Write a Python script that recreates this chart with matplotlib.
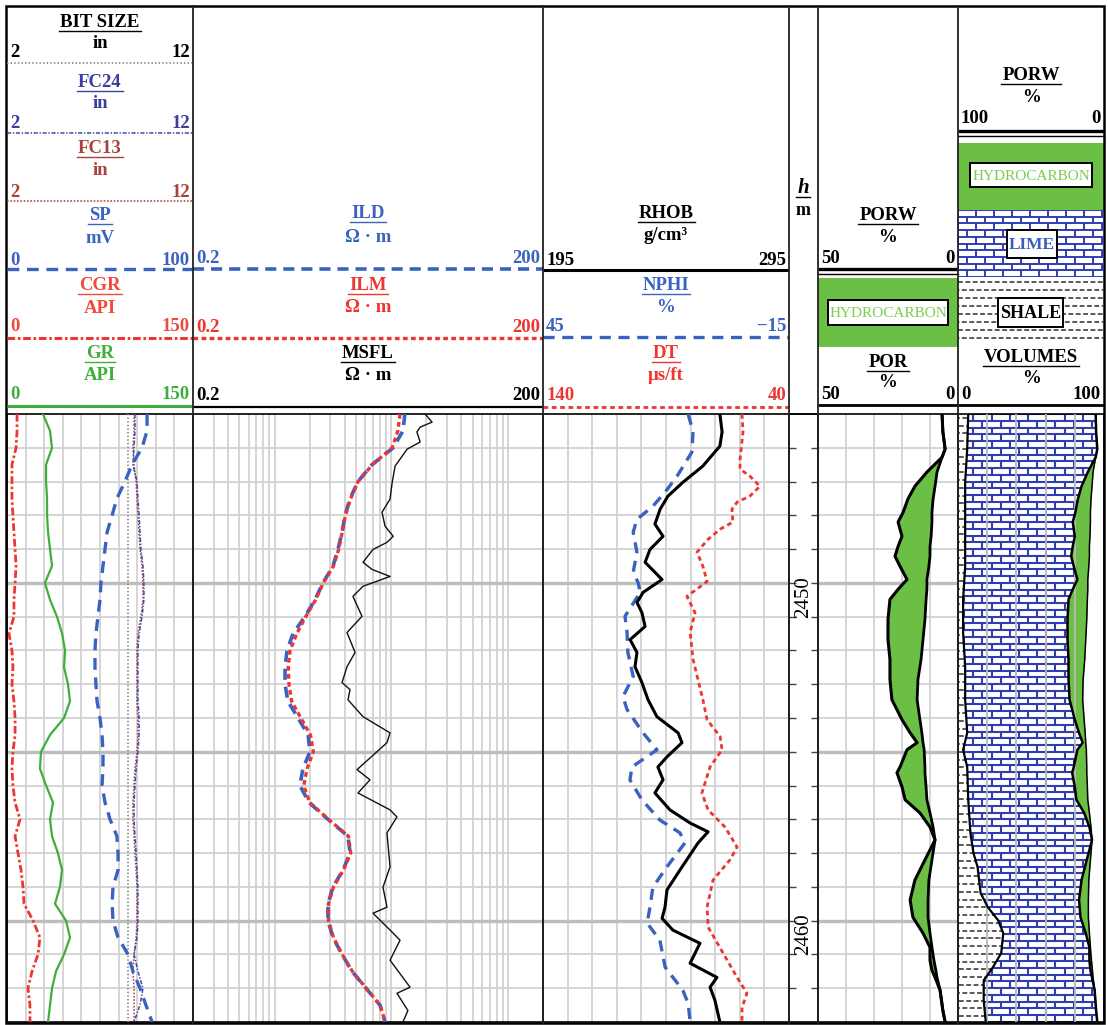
import numpy as np
import matplotlib
matplotlib.use("Agg")
import matplotlib.pyplot as plt
from matplotlib.collections import LineCollection
from matplotlib.patches import Rectangle
from matplotlib import transforms

plt.rcParams['lines.scale_dashes'] = False
plt.rcParams['font.family'] = ['Liberation Serif', 'DejaVu Serif']

W, H = 1108, 1025
fig = plt.figure(figsize=(W / 100, H / 100), dpi=100)

# ---------------------------------------------------------------- data
DEPTH = [2445.0, 2445.5, 2446.0, 2446.5, 2447.0, 2447.5, 2448.0, 2448.5, 2449.0,
         2449.5, 2450.0, 2450.5, 2451.0, 2451.5, 2452.0, 2452.5, 2453.0, 2453.5,
         2454.0, 2454.5, 2455.0, 2455.5, 2456.0, 2456.5, 2457.0, 2457.5, 2458.0,
         2458.5, 2459.0, 2459.5, 2460.0, 2460.5, 2461.0, 2461.5, 2462.0, 2462.5, 2463.0]

GR = [29.0, 34.7, 36.3, 31.5, 31.5, 32.3, 32.3, 33.1, 34.7, 36.3, 30.6, 34.7, 40.3,
      44.4, 46.8, 46.0, 49.2, 50.8, 46.0, 34.7, 27.4, 26.6, 31.5, 37.1, 34.7, 36.3,
      41.1, 44.4, 42.7, 38.7, 47.6, 50.8, 46.0, 39.5, 36.3, 34.7, 33.1]
CGR = [8.1, 8.1, 7.3, 4.0, 4.0, 4.0, 4.8, 5.6, 6.5, 7.3, 6.5, 5.6, 5.6, 1.6, 4.0, 4.8,
       4.0, 5.6, 6.5, 6.5, 4.8, 4.0, 4.8, 6.5, 10.5, 6.5, 8.9, 11.3, 12.9, 13.7, 21.0,
       26.6, 25.0, 20.2, 16.9, 18.5, 18.5]
SP = [75.3, 75.3, 72.6, 67.2, 63.4, 59.1, 56.5, 53.8, 52.7, 51.6, 50.5, 50.0, 48.9,
      47.8, 47.3, 47.3, 47.8, 48.4, 50.0, 51.1, 51.6, 51.6, 51.1, 52.7, 55.4, 59.1,
      59.7, 59.7, 57.0, 56.5, 57.0, 59.7, 65.1, 67.7, 71.5, 74.7, 78.0]
FC13 = [8.83, 8.83, 8.77, 8.83, 8.94, 8.99, 9.04, 9.10, 9.15, 9.26, 9.31, 9.31, 9.20,
        9.04, 8.99, 8.99, 8.99, 8.99, 9.04, 9.04, 8.99, 8.88, 8.83, 8.77, 8.77, 8.83,
        8.88, 8.94, 8.99, 8.99, 8.99, 8.94, 8.83, 8.77, 8.83, 8.83, 8.83]
FC24 = [8.88, 8.88, 8.83, 8.77, 8.99, 9.04, 9.10, 9.15, 9.20, 9.31, 9.36, 9.36, 9.26,
        9.10, 9.04, 9.04, 9.04, 9.04, 9.10, 9.10, 9.04, 8.94, 8.88, 8.83, 8.83, 8.88,
        8.94, 8.99, 9.04, 9.04, 9.04, 8.99, 8.83, 9.04, 9.31, 9.15, 8.83]
BIT_DEPTH = [2445.0, 2463.0]
BIT = [8.5, 8.5]

ILD = [13.1, 12.6, 10.4, 6.84, 5.19, 4.44, 4.02, 3.79, 3.50, 3.17, 2.60, 2.22, 1.82,
       1.44, 1.28, 1.23, 1.23, 1.30, 1.59, 1.94, 2.01, 1.75, 1.65, 1.97, 2.87, 4.26,
       4.44, 3.86, 3.17, 2.87, 2.87, 3.17, 3.79, 4.61, 6.08, 8.02, 8.85]
ILM = [11.9, 11.4, 10.2, 6.9, 5.2, 4.5, 4.05, 3.8, 3.55, 3.2, 2.62, 2.25, 1.85, 1.55,
       1.36, 1.31, 1.33, 1.40, 1.68, 2.03, 2.15, 1.90, 1.78, 2.0, 2.9, 4.3, 4.5, 3.9,
       3.2, 2.9, 2.9, 3.2, 3.8, 4.65, 6.1, 8.0, 8.9]
MSFL_DEPTH = [2445.00, 2445.24, 2445.39, 2445.53, 2445.83, 2446.04, 2446.54, 2447.02,
              2447.52, 2447.91, 2448.32, 2448.62, 2448.80, 2449.01, 2449.39, 2449.60,
              2449.81, 2450.10, 2450.40, 2450.99, 2451.47, 2452.06, 2452.48, 2452.95,
              2453.16, 2453.46, 2453.96, 2454.44, 2454.73, 2455.53, 2455.83, 2456.22,
              2456.72, 2456.93, 2457.40, 2458.41, 2459.01, 2459.60, 2459.78, 2460.37,
              2460.58, 2461.17, 2461.97, 2462.15, 2462.66, 2463.00]
MSFL = [19.5, 22.4, 17.7, 16.6, 17.7, 13.7, 10.8, 10.2, 9.77, 8.34, 8.85, 10.4, 9.2,
        6.98, 5.73, 6.84, 9.77, 5.73, 4.70, 5.62, 4.18, 4.90, 4.18, 3.79, 4.44, 4.26,
        5.73, 9.77, 9.2, 5.09, 6.58, 5.19, 9.77, 11.2, 9.2, 9.77, 8.5, 9.2, 6.98, 10.4,
        11.9, 9.77, 14.5, 11.2, 13.9, 12.6]

RHOB_DEPTH = [2445.00, 2445.53, 2445.95, 2446.54, 2447.02, 2447.43, 2447.82, 2448.26,
              2448.62, 2449.01, 2449.39, 2449.90, 2450.28, 2450.58, 2450.88, 2451.29,
              2451.68, 2452.06, 2452.48, 2452.95, 2453.46, 2453.96, 2454.44, 2454.73,
              2455.15, 2455.45, 2455.83, 2456.22, 2456.72, 2457.11, 2457.37, 2457.70,
              2458.41, 2459.09, 2459.60, 2459.93, 2460.28, 2460.67, 2461.26, 2461.68,
              2461.97, 2462.36, 2463.00]
RHOB = [266.9, 267.8, 266.9, 260.0, 251.9, 245.8, 242.6, 240.5, 243.8, 238.5, 236.5,
        243.4, 235.7, 233.2, 235.2, 236.5, 230.4, 233.2, 232.4, 235.2, 237.7, 241.3,
        249.9, 251.5, 245.4, 241.7, 243.8, 240.5, 246.6, 254.8, 262.1, 258.0, 251.5,
        245.4, 244.6, 243.4, 247.8, 258.8, 254.8, 265.7, 262.9, 264.9, 266.9]
NPHI_DEPTH = [2445.00, 2445.53, 2446.13, 2446.84, 2447.31, 2447.73, 2448.12, 2448.50,
              2449.09, 2449.69, 2449.99, 2450.28, 2450.99, 2451.47, 2452.06, 2452.77,
              2453.37, 2453.75, 2454.44, 2454.94, 2455.45, 2455.83, 2456.42, 2457.02,
              2457.40, 2457.70, 2458.41, 2459.01, 2459.60, 2460.07, 2460.58, 2461.38,
              2462.06, 2462.45, 2463.00]
NPHI = [9.6, 8.4, 8.7, 12.3, 15.2, 18.2, 22.1, 23.0, 22.1, 23.0, 21.8, 21.3, 25.0, 24.5,
        24.3, 23.0, 25.5, 24.5, 20.6, 17.2, 23.3, 23.8, 20.9, 16.5, 11.6, 10.4, 14.8,
        18.2, 18.9, 19.6, 16.5, 15.2, 10.9, 9.6, 9.1]
DT_DEPTH = [2445.00, 2445.53, 2446.34, 2446.63, 2446.84, 2447.14, 2447.43, 2447.61,
            2447.82, 2448.20, 2448.41, 2448.71, 2449.09, 2449.51, 2449.96, 2450.40,
            2450.88, 2451.47, 2452.27, 2452.86, 2453.46, 2454.05, 2454.55, 2454.94,
            2455.45, 2456.22, 2456.72, 2457.23, 2457.82, 2458.20, 2458.80, 2459.60,
            2460.19, 2460.96, 2461.68, 2462.15, 2462.57, 2463.00]
DT = [59.1, 58.7, 59.9, 59.9, 55.9, 51.8, 55.9, 61.1, 63.2, 62.8, 68.0, 72.9, 77.4, 75.0,
      73.3, 81.5, 78.2, 80.2, 79.0, 77.0, 75.0, 73.3, 68.0, 67.2, 72.1, 75.4, 72.9, 66.0,
      61.1, 64.0, 70.9, 73.3, 72.9, 66.8, 61.1, 57.1, 59.1, 59.1]

POR_DEPTH = [2445.00, 2445.53, 2446.04, 2446.28, 2446.72, 2447.14, 2447.52, 2447.91,
             2448.20, 2448.62, 2448.92, 2449.21, 2449.51, 2449.90, 2450.19, 2450.49,
             2451.08, 2451.68, 2452.27, 2452.86, 2453.46, 2454.05, 2454.44, 2454.73,
             2454.94, 2455.45, 2455.62, 2456.04, 2456.42, 2456.81, 2457.23, 2457.61,
             2458.20, 2458.80, 2459.39, 2459.90, 2460.37, 2460.79, 2461.17, 2461.47,
             2461.68, 2462.06, 2462.66, 2463.00]
POR = [5.7, 5.4, 4.6, 5.7, 11.1, 15.4, 17.9, 19.6, 21.4, 20.0, 21.4, 22.5, 20.7, 18.2,
       21.4, 24.3, 25.0, 25.0, 24.3, 24.3, 23.6, 20.0, 17.1, 14.6, 18.2, 20.7, 21.8, 20.0,
       18.9, 13.6, 10.0, 8.2, 11.8, 15.4, 17.1, 16.1, 12.5, 10.0, 10.0, 9.3, 8.2, 6.4,
       5.4, 4.6]
PORW = [5.7, 5.4, 4.6, 5.7, 7.5, 8.2, 8.9, 9.3, 9.3, 9.6, 10.0, 10.0, 10.4, 11.1, 11.1,
        11.4, 11.8, 12.5, 13.2, 14.3, 14.6, 13.6, 12.9, 12.5, 12.1, 11.8, 11.8, 11.4, 11.1,
        10.0, 8.9, 8.2, 9.3, 10.4, 10.7, 10.7, 10.0, 9.3, 8.6, 7.9, 7.5, 6.4, 5.4, 4.6]

VSH_DEPTH = [2445.00, 2446.04, 2447.02, 2448.50, 2449.51, 2450.49, 2451.47, 2452.48,
             2453.46, 2454.44, 2454.94, 2455.45, 2456.42, 2457.40, 2458.00, 2458.41,
             2459.18, 2459.60, 2459.99, 2460.37, 2460.96, 2461.38, 2461.77, 2462.36,
             2463.00]
VSH = [7.0, 6.3, 4.9, 4.9, 4.9, 3.5, 3.5, 4.9, 4.9, 6.3, 3.5, 6.3, 7.0, 8.5, 10.6, 13.4,
       15.5, 20.4, 27.5, 31.0, 29.6, 23.9, 17.6, 17.6, 19.0]

DEPTH_LABELS = [2450, 2460]

# ---------------------------------------------------------------- styles
BLUE = '#3a62c0'
RED = '#ee3530'
GREEN = '#3fae3a'
HC_GREEN = '#6cbf45'
BRICK_BLUE = '#2f3db3'
GRID = '#d2d2d2'
GRID5 = '#bdbdbd'
FS_NAME = 13.5
FS_NUM = 13.5

TOP, BOT = 414, 1022
DMIN, DMAX = 2445, 2463


def rect(x0, y0, x1, y1):
    return [x0 / W, 1 - y1 / H, (x1 - x0) / W, (y1 - y0) / H]


def base_axes(x0, x1, xlim, xticks, xscale='linear', hgrid=True):
    ax = fig.add_axes(rect(x0, TOP, x1, BOT))
    ax.set_xscale(xscale)
    ax.set_xlim(*xlim)
    ax.set_ylim(DMAX, DMIN)
    ax.set_xticks(xticks)
    ax.xaxis.set_minor_locator(matplotlib.ticker.NullLocator())
    ax.set_yticks([2450, 2455, 2460])
    ax.set_yticks(list(range(2446, 2463)), minor=True)
    ax.tick_params(which='both', length=0, labelbottom=False, labelleft=False)
    ax.grid(axis='x', which='major', color=GRID, lw=1.3)
    if hgrid:
        ax.grid(axis='y', which='minor', color=GRID, lw=1.3)
        ax.grid(axis='y', which='major', color=GRID5, lw=2.4)
    for s in ax.spines.values():
        s.set_linewidth(1.2)
    return ax


def curve_ax(base, xlim, xscale='linear'):
    p = base.get_position().bounds
    a = fig.add_axes(p, sharey=base, frameon=False)
    a.set_xscale(xscale)
    a.set_xlim(*xlim)
    a.set_axis_off()
    a.patch.set_visible(False)
    return a


def brick_segments(x0, x1, y0, y1, bh, bw):
    segs = []
    n = int(np.ceil((y1 - y0) / bh))
    for i in range(n + 1):
        y = y0 + i * bh
        segs.append([(x0, y), (x1, y)])
        if i < n:
            off = (bw / 2) * (i % 2)
            x = x0 + off
            while x <= x1:
                segs.append([(x, y), (x, y + bh)])
                x += bw
    return segs


def shale_collections(ax, x0, x1, y0, y1, rh, lw, clip):
    even, odd = [], []
    n = int(np.ceil((y1 - y0) / rh))
    for i in range(n + 1):
        y = y0 + (i + 0.5) * rh
        (even if i % 2 == 0 else odd).append([(x0, y), (x1, y)])
    cols = []
    for segs, off in ((even, 0), (odd, 2.5)):
        lc = LineCollection(segs, colors='#3c3c3c', linewidths=lw,
                            linestyles=[(off, (3.5, 1.8))])
        ax.add_collection(lc)
        lc.set_clip_path(clip)
        cols.append(lc)
    return cols


# ---------------------------------------------------------------- track 1
t1 = base_axes(7, 193, (0, 150), [15 * i for i in range(1, 10)])
a = curve_ax(t1, (2, 12))
a.plot(BIT, BIT_DEPTH, color='#8a8a8a', lw=1.3, dashes=(1.0, 1.6))
a = curve_ax(t1, (2, 12))
a.plot(FC13, DEPTH, color='#b0403a', lw=1.1, dashes=(1.2, 1.2))
a = curve_ax(t1, (2, 12))
a.plot(FC24, DEPTH, color='#3b4aa8', lw=1.1, dashes=(3.0, 1.2, 1.0, 1.2))
a = curve_ax(t1, (0, 100))
a.plot(SP, DEPTH, color=BLUE, lw=2.4, dashes=(8.5, 5.5))
a = curve_ax(t1, (0, 150))
a.plot(CGR, DEPTH, color=RED, lw=2.0, dashes=(5.5, 2.0, 1.8, 2.0))
a = curve_ax(t1, (0, 150))
a.plot(GR, DEPTH, color=GREEN, lw=1.6)

# ---------------------------------------------------------------- track 2
LOGTICKS = [k * 10.0 ** e for e in (-1, 0, 1, 2) for k in range(1, 10)
            if 0.2 <= k * 10.0 ** e <= 200]
t2 = base_axes(193, 543, (0.2, 200), LOGTICKS, xscale='log')
a = curve_ax(t2, (0.2, 200), 'log')
a.plot(MSFL, MSFL_DEPTH, color='#111111', lw=1.0)
a = curve_ax(t2, (0.2, 200), 'log')
a.plot(ILD, DEPTH, color=BLUE, lw=2.6, dashes=(8.0, 5.0))
a = curve_ax(t2, (0.2, 200), 'log')
a.plot(ILM, DEPTH, color=RED, lw=2.4, dashes=(3.4, 2.4))

# ---------------------------------------------------------------- track 3
t3 = base_axes(543, 789, (195, 295), [205 + 10 * i for i in range(9)])
a = curve_ax(t3, (140, 40))
a.plot(DT, DT_DEPTH, color=RED, lw=2.0, dashes=(3.4, 2.6))
a = curve_ax(t3, (45, -15))
a.plot(NPHI, NPHI_DEPTH, color=BLUE, lw=2.4, dashes=(8.0, 5.5))
a = curve_ax(t3, (195, 295))
a.plot(RHOB, RHOB_DEPTH, color='black', lw=2.2)

# ---------------------------------------------------------------- depth track
td = fig.add_axes(rect(789, TOP, 818, BOT))
td.set_ylim(DMAX, DMIN)
td.set_xlim(0, 1)
td.set_xticks([])
td.set_yticks(list(range(2446, 2463)))
td.tick_params(axis='y', which='both', direction='in', left=True, right=True,
               length=5, width=1, color='#444444', labelleft=False)
for s in td.spines.values():
    s.set_linewidth(1.2)
lab_tr = transforms.offset_copy(td.get_yaxis_transform(), fig=fig, x=0, y=-14, units='dots')
for d in DEPTH_LABELS:
    td.text(0.5, d, str(d), rotation=90, ha='center', va='center', fontsize=15,
            transform=lab_tr, color='black')

# ---------------------------------------------------------------- track 5
t5 = base_axes(818, 958, (50, 0), [10, 20, 30, 40])
a = curve_ax(t5, (50, 0))
a.fill_betweenx(POR_DEPTH, POR, PORW, color=HC_GREEN, lw=0)
a.plot(POR, POR_DEPTH, color='black', lw=2.2)
a.plot(PORW, POR_DEPTH, color='black', lw=2.0)

# ---------------------------------------------------------------- track 6
t6 = base_axes(958, 1104, (0, 100), [20, 40, 60, 80], hgrid=False)
t6.set_axisbelow(False)
t6.grid(axis='x', which='major', color='#b8b8b8', lw=1.3, zorder=5)
lime_x = list(VSH) + [100 - p for p in POR[::-1]]
lime_y = list(VSH_DEPTH) + list(POR_DEPTH[::-1])
lime_poly = t6.fill(lime_x, lime_y, facecolor='white', edgecolor='none', zorder=1)[0]
bricks = LineCollection(brick_segments(-2, 102, DMIN, DMAX + 0.3, 0.2, 12.5),
                        colors=BRICK_BLUE, linewidths=1.5, zorder=2)
t6.add_collection(bricks)
bricks.set_clip_path(lime_poly)
shale_x = [0] + list(VSH) + [0]
shale_y = [VSH_DEPTH[0]] + list(VSH_DEPTH) + [VSH_DEPTH[-1]]
shale_poly = t6.fill(shale_x, shale_y, facecolor='white', edgecolor='none', zorder=1)[0]
for lc in shale_collections(t6, -2, 102, DMIN, DMAX, 0.23, 1.2, shale_poly):
    lc.set_zorder(2)
t6.fill_betweenx(POR_DEPTH, [100 - p for p in POR], [100 - p for p in PORW],
                 color=HC_GREEN, lw=0, zorder=2)
t6.plot(VSH, VSH_DEPTH, color='black', lw=1.6, zorder=3)
t6.plot([100 - p for p in POR], POR_DEPTH, color='black', lw=1.8, zorder=3)
t6.plot([100 - p for p in PORW], POR_DEPTH, color='black', lw=1.1, zorder=3)

# ---------------------------------------------------------------- header overlay
ov = fig.add_axes([0, 0, 1, 1], zorder=10)
ov.set_xlim(0, W)
ov.set_ylim(H, 0)
ov.axis('off')
ov.patch.set_visible(False)

underlines = []


def header_entry(xl, xr, name, unit, lo, hi, color, yn, yu, ynum, yline=None,
                 ls=None, lw=2.0, lcolor=None):
    xc = (xl + xr) / 2
    t = ov.text(xc, yn, name, ha='center', va='baseline', color=color,
                fontsize=FS_NAME, fontweight='bold')
    underlines.append((t, yn + 4, color))
    ov.text(xc, yu, unit, ha='center', va='baseline', color=color,
            fontsize=FS_NAME, fontweight='bold')
    ov.text(xl + 3, ynum, lo, ha='left', va='baseline', color=color,
            fontsize=FS_NUM, fontweight='bold')
    ov.text(xr - 3, ynum, hi, ha='right', va='baseline', color=color,
            fontsize=FS_NUM, fontweight='bold')
    if yline is not None:
        kw = {} if ls is None else {'dashes': ls}
        ov.plot([xl, xr], [yline, yline], color=lcolor or color, lw=lw,
                solid_capstyle='butt', **kw)


# track 1
header_entry(7, 193, 'BIT SIZE', 'in', '2', '12', 'black', 27, 48, 57, 63,
             (1.0, 1.6), 1.3, '#8a8a8a')
header_entry(7, 193, 'FC24', 'in', '2', '12', '#3b3f9c', 87, 108, 128, 133,
             (3.0, 1.2, 1.0, 1.2), 1.1, '#3b4aa8')
header_entry(7, 193, 'FC13', 'in', '2', '12', '#a8423a', 153, 175, 197, 201,
             (1.2, 1.2), 1.1, '#b0403a')
header_entry(7, 193, 'SP', 'mV', '0', '100', BLUE, 220, 243, 265, 269,
             (8.5, 5.5), 2.4)
header_entry(7, 193, 'CGR', 'API', '0', '150', '#ef4a3a', 290, 313, 331, 338,
             (5.5, 2.0, 1.8, 2.0), 2.2, RED)
header_entry(7, 193, 'GR', 'API', '0', '150', GREEN, 358, 380, 399, 406, None, 2.2)
# track 2
header_entry(193, 543, 'ILD', 'Ω · m', '0.2', '200', BLUE, 218, 242, 263, 269,
             (8.0, 5.0), 2.6)
header_entry(193, 543, 'ILM', 'Ω · m', '0.2', '200', RED, 290, 312, 332, 338,
             (3.4, 2.4), 2.4)
header_entry(193, 543, 'MSFL', 'Ω · m', '0.2', '200', 'black', 358, 380, 400, 407,
             None, 1.6)
# track 3
header_entry(543, 789, 'RHOB', 'g/cm³', '195', '295', 'black', 218, 240, 265, 270,
             None, 2.2)
header_entry(543, 789, 'NPHI', '%', '45', '−15', BLUE, 290, 312, 331, 337,
             (8.0, 5.5), 2.4)
header_entry(543, 789, 'DT', 'μs/ft', '140', '40', RED, 358, 380, 400, 407,
             (3.4, 2.6), 2.0)
# track 5
header_entry(818, 958, 'PORW', '%', '50', '0', 'black', 220, 242, 263, 269, None, 2.4)
ov.plot([818, 958], [274, 274], color='black', lw=1.0)
header_entry(818, 958, 'POR', '%', '50', '0', 'black', 367, 387, 399, 405, None, 2.0)
# track 6
header_entry(958, 1104, 'PORW', '%', '100', '0', 'black', 80, 102, 123, 131, None, 2.4)
ov.plot([958, 1104], [136, 136], color='black', lw=1.0)
header_entry(958, 1104, 'VOLUMES', '%', '0', '100', 'black', 362, 383, 399, 405,
             None, 2.0)

# depth header
th = ov.text(803, 193, 'h', ha='center', va='baseline', fontsize=15,
             fontweight='bold', style='italic', color='black')
underlines.append((th, 197, 'black'))
ov.text(803, 215, 'm', ha='center', va='baseline', fontsize=13,
        fontweight='bold', color='black')
ov.plot([789, 818], [TOP, TOP], color='black', lw=1.2)


def label_box(x0, y0, x1, y1, text, color, size, weight):
    ov.add_patch(Rectangle((x0, y0), x1 - x0, y1 - y0, facecolor='white',
                           edgecolor='black', lw=1.4, zorder=6))
    ov.text((x0 + x1) / 2, (y0 + y1) / 2 + 1, text, ha='center', va='center',
            color=color, fontsize=size, fontweight=weight, zorder=7)


# track 5 hydrocarbon legend
ov.add_patch(Rectangle((818, 278), 140, 69, facecolor=HC_GREEN, edgecolor='none'))
label_box(828, 300, 948, 325, 'HYDROCARBON', '#7ccc50', 11, 'normal')
# track 6 legends
ov.add_patch(Rectangle((958, 143), 146, 67, facecolor=HC_GREEN, edgecolor='none'))
label_box(970, 163, 1092, 187, 'HYDROCARBON', '#7ccc50', 11, 'normal')
lime_rect = Rectangle((958, 210), 146, 67, facecolor='white', edgecolor='none')
ov.add_patch(lime_rect)
hb = LineCollection(brick_segments(958, 1104, 210, 278, 6.7, 18.0),
                    colors=BRICK_BLUE, linewidths=1.4)
ov.add_collection(hb)
hb.set_clip_path(lime_rect)
label_box(1007, 230, 1057, 258, 'LIME', '#3a5cc0', 12.5, 'bold')
shale_rect = Rectangle((958, 278), 146, 65, facecolor='white', edgecolor='none')
ov.add_patch(shale_rect)
shale_collections(ov, 958, 1104, 278, 343, 8.0, 1.2, shale_rect)
label_box(998, 298, 1063, 327, 'SHALE', 'black', 13, 'bold')

# frame
ov.add_patch(Rectangle((6, 6), 1098, 1017, fill=False, lw=1.8, edgecolor='black'))
for x in [193, 543, 789, 818, 958]:
    ov.plot([x, x], [6, 1023], color='#222222', lw=1.3)

# underlines under curve names
fig.canvas.draw()
r = fig.canvas.get_renderer()
inv = ov.transData.inverted()
for t, y, c in underlines:
    bb = t.get_window_extent(r)
    (x0, _), (x1, _) = inv.transform([(bb.x0, bb.y0), (bb.x1, bb.y1)])
    ov.plot([x0 - 1, x1 + 1], [y, y], color=c, lw=1.0)

fig.savefig('out.png', dpi=100)
